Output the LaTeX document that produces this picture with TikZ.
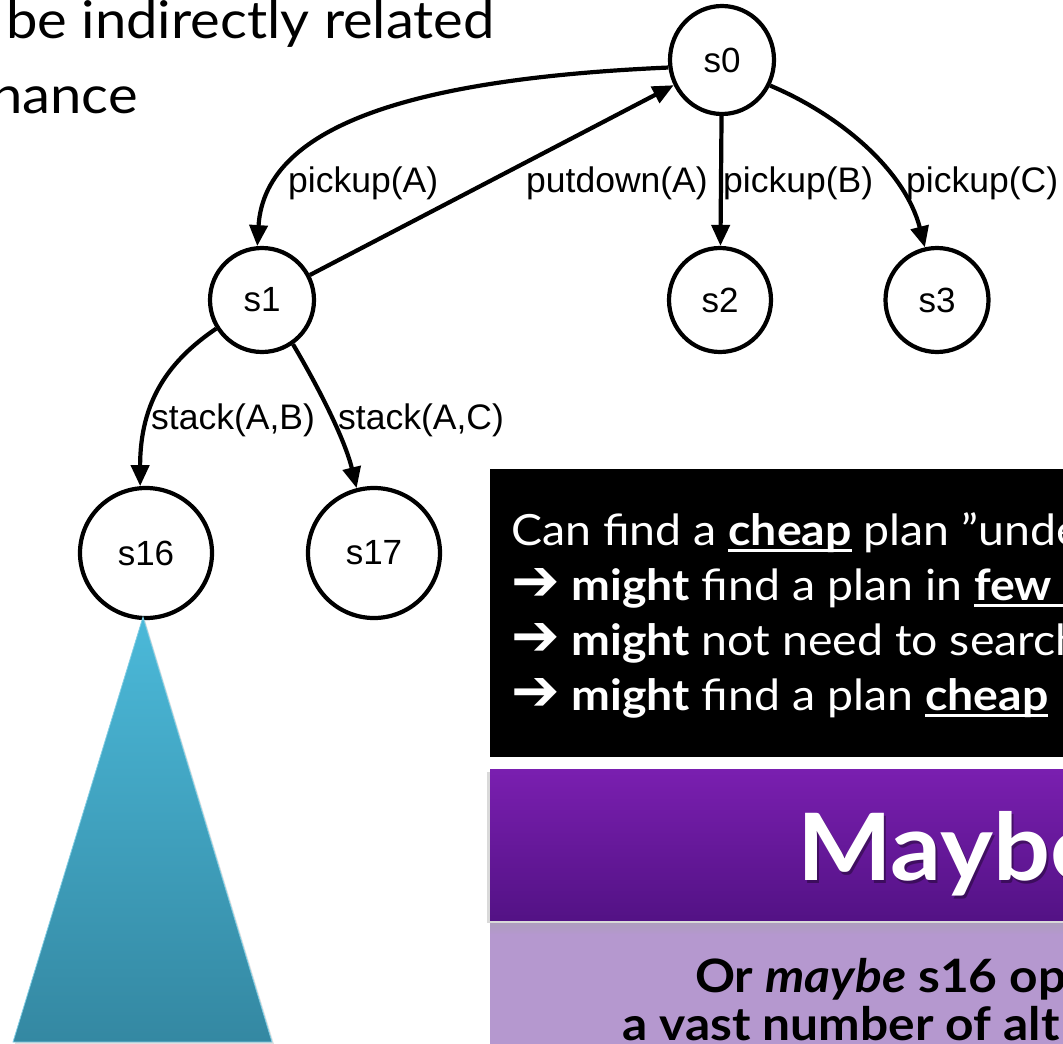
\documentclass[tikz,border=0pt]{standalone}
\usepackage{fontspec}
\setmainfont[FakeStretch=1.08]{Lato}
\newfontfamily\graphfont{Liberation Sans}
\newfontfamily\symfont{DejaVu Sans}
\usetikzlibrary{arrows.meta,shapes.geometric}

% thick underline used in the slide text
\newcommand{\uln}[1]{\setbox0\hbox{#1}\rlap{\rule[-7pt]{\wd0}{3pt}}\box0\relax}
\newcommand{\arr}{{\symfont\bfseries\fontsize{58}{50}\selectfont ➔}}

\definecolor{triTop}{HTML}{4BB9D9}
\definecolor{triBot}{HTML}{3488A2}
\definecolor{hdrTop}{HTML}{7A1FB0}
\definecolor{hdrBot}{HTML}{531285}
\definecolor{bodyPurple}{HTML}{B598CF}

\begin{document}
\begin{tikzpicture}[x=1pt,y=-1pt,
  state/.style={draw,ellipse,line width=4.2pt,inner sep=0pt,
    font=\graphfont\fontsize{35}{40}\selectfont},
  edge/.style={line width=4.2pt,-{Triangle[length=21pt,width=18pt]}},
  elabel/.style={inner sep=0pt,anchor=base west,
    font=\graphfont\fontsize{35.5}{40}\selectfont},
  boxline/.style={inner sep=0pt,anchor=base west,text=white,
    font=\fontsize{43}{48}\selectfont},
  headline/.style={inner sep=0pt,anchor=base east,
    font=\fontsize{52}{58}\selectfont},
]
\useasboundingbox (0,0) rectangle (1063,1044);
\clip (0,0) rectangle (1063,1044);

% heading text running in from the left
\node[headline] (h1) at (495,38) {be indirectly related};
\node[headline] (h2) at (138,113) {nance};

% search tree states
\node[state,minimum width=104pt,minimum height=108pt] (s0) at (722,60) {s0};
\node[state,minimum width=104pt,minimum height=104pt] (s1) at (262,300) {s1};
\node[state,minimum width=102pt,minimum height=104pt] (s2) at (720,300) {s2};
\node[state,minimum width=103pt,minimum height=104pt] (s3) at (937,300) {s3};
\node[state,minimum width=132pt,minimum height=130pt] (s16) at (146,553) {s16};
\node[state,minimum width=132pt,minimum height=130pt] (s17) at (374,553) {s17};

% transitions
\draw[edge] (s0.188) .. controls (430,78) and (265,120) .. (s1.95);
\draw[edge] (s1) -- (s0);
\draw[edge] (s0) -- (s2);
\draw[edge] (s0.-28) .. controls (840,115) and (905,170) .. (s3.103);
\draw[edge] (s1.212) .. controls (170,360) and (140,400) .. (s16.95);
\draw[edge] (s1.-55) .. controls (320,390) and (345,440) .. (s17.105);

% transition labels
\node[elabel] (lpa) at (288,192) {pickup(A)};
\node[elabel] (lpd) at (526,192) {putdown(A)};
\node[elabel] (lpb) at (723,192) {pickup(B)};
\node[elabel] (lpc) at (906,192) {pickup(C)};
\node[elabel] (lsb) at (151,429) {stack(A,B)};
\node[elabel] (lsc) at (338,429) {stack(A,C)};

% subtree below s16
\fill[black!12] (145,620) -- (274,1044) -- (15,1044) -- cycle;
\shade[top color=triTop,bottom color=triBot,draw=triTop!70!white,line width=0.8pt]
  (143,617) -- (272,1042) -- (13,1042) -- cycle;

% black message box
\fill[black] (490,469) rectangle (1070,757);
\node[boxline] (b1) at (511,545) {Can find a \uln{\textbf{cheap}} plan ”under};
\node[boxline] (b2) at (511,600) {\arr{} \textbf{might} find a plan in \uln{\textbf{few}\hspace{60pt}}};
\node[boxline] (b3) at (511,655) {\arr{} \textbf{might} not need to search};
\node[boxline] (b4) at (511,710) {\arr{} \textbf{might} find a plan \uln{\textbf{cheap}}};

% purple header and body
\fill[bodyPurple] (490,920) rectangle (1070,1050);
\shade[top color=black!35,bottom color=bodyPurple,opacity=0.5] (490,920) rectangle (1070,934);
\fill[black!15] (487,772) rectangle (1070,923);
\shade[top color=hdrTop,bottom color=hdrBot] (490,769) rectangle (1070,920);
\node[inner sep=0pt,anchor=base west,text=black,opacity=0.35,
  font=\fontsize{93}{110}\selectfont\bfseries] (mts) at (799,883) {Maybe};
\node[inner sep=0pt,anchor=base west,text=white,
  font=\fontsize{93}{110}\selectfont\bfseries] (mt) at (797,880) {Maybe};
\node[inner sep=0pt,anchor=base west,font=\fontsize{46}{52}\selectfont\bfseries]
  (p1) at (695,992) {Or \textit{maybe} s16 op};
\node[inner sep=0pt,anchor=base west,font=\fontsize{46}{52}\selectfont\bfseries]
  (p2) at (622,1040) {a vast number of alt};
\end{tikzpicture}
\end{document}
